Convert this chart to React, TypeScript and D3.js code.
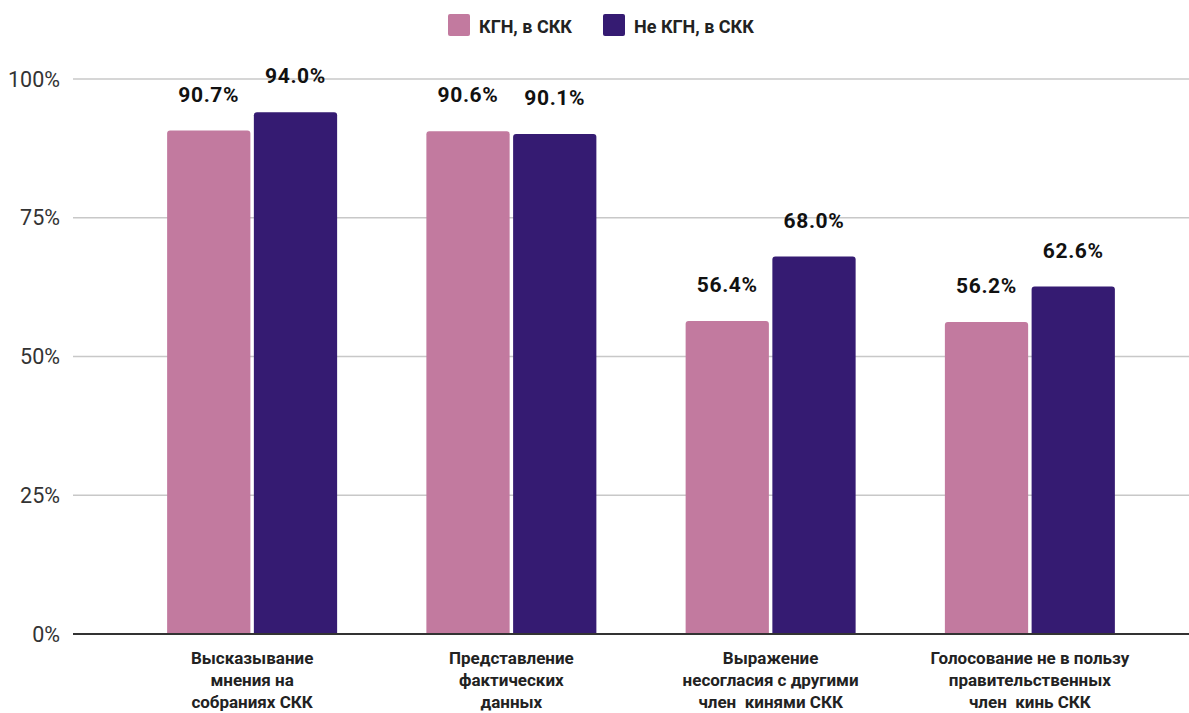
import React from "react";
import * as d3 from "d3";

const categories: string[][] = [
  ["Высказывание", "мнения на", "собраниях СКК"],
  ["Представление", "фактических", "данных"],
  ["Выражение", "несогласия с другими", "член  кинями СКК"],
  ["Голосование не в пользу", "правительственных", "член  кинь СКК"],
];
const categoryKeys = ["c1", "c2", "c3", "c4"];
const seriesNames = ["КГН, в СКК", "Не КГН, в СКК"];
const seriesColors = ["#C27A9F", "#351B72"];
const kgnValues = [90.7, 90.6, 56.4, 56.2];
const notKgnValues = [94.0, 90.1, 68.0, 62.6];
const yTicks = [0, 25, 50, 75, 100];

const W = 1189;
const H = 713;

export default function App() {
  const y = d3.scaleLinear().domain([0, 100]).range([634, 79]);
  const x0 = d3.scaleBand<string>().domain(categoryKeys).range([122.5, 1159.5]).padding(0);
  const groupW = 170;
  const x1 = d3.scaleBand<string>().domain(seriesNames).range([0, groupW]).paddingInner(0.04);
  const series = [kgnValues, notKgnValues];
  const font = "Roboto, 'Liberation Sans', sans-serif";
  const r = 3;

  const barPath = (x: number, top: number, w: number, bottom: number) => {
    const p = d3.path();
    p.moveTo(x, bottom);
    p.lineTo(x, top + r);
    p.quadraticCurveTo(x, top, x + r, top);
    p.lineTo(x + w - r, top);
    p.quadraticCurveTo(x + w, top, x + w, top + r);
    p.lineTo(x + w, bottom);
    p.closePath();
    return p.toString();
  };

  return (
    <div style={{ position: "fixed", left: 0, top: 0, width: W, height: H, background: "#fff" }}>
      <svg width={W} height={H} style={{ display: "block" }} fontFamily={font}>
        <rect width={W} height={H} fill="#fff" />
        {/* legend */}
        <g>
          <rect x={448} y={14} width={22} height={22} rx={2} fill={seriesColors[0]} />
          <text x={479} y={33} fontSize={18} fontWeight={700} fill="#222">{seriesNames[0]}</text>
          <rect x={603} y={14} width={22} height={22} rx={2} fill={seriesColors[1]} />
          <text x={634} y={33} fontSize={18} fontWeight={700} fill="#222">{seriesNames[1]}</text>
        </g>
        {/* grid */}
        {yTicks.map((t) => (
          <g key={t}>
            <line
              x1={73}
              x2={W}
              y1={y(t)}
              y2={y(t)}
              stroke={t === 0 ? "#333" : "#c8c8c8"}
              strokeWidth={t === 0 ? 1.8 : 1.4}
            />
            <text x={60} y={y(t)} dy="0.36em" textAnchor="end" fontSize={21.5} fill="#333">
              {t}%
            </text>
          </g>
        ))}
        {/* bars */}
        {categoryKeys.map((c, i) => {
          const gx = (x0(c) as number) + (x0.bandwidth() - groupW) / 2;
          return (
            <g key={c}>
              {series.map((vals, si) => {
                const bx = gx + (x1(seriesNames[si]) as number);
                const bw = x1.bandwidth();
                const v = vals[i];
                return (
                  <g key={si}>
                    <path d={barPath(bx, y(v), bw, y(0) - 1)} fill={seriesColors[si]} />
                    <text
                      x={bx + bw / 2}
                      y={y(v) - 29}
                      textAnchor="middle"
                      fontSize={21}
                      fontWeight={700}
                      letterSpacing={0.6}
                      fill="#111"
                    >
                      {v.toFixed(1)}%
                    </text>
                  </g>
                );
              })}
              {categories[i].map((line, li) => (
                <text
                  key={li}
                  x={(x0(c) as number) + x0.bandwidth() / 2}
                  y={664 + li * 22}
                  textAnchor="middle"
                  fontSize={17}
                  fontWeight={700}
                  fill="#222"
                  style={{ whiteSpace: "pre" }}
                >
                  {line}
                </text>
              ))}
            </g>
          );
        })}
      </svg>
    </div>
  );
}
